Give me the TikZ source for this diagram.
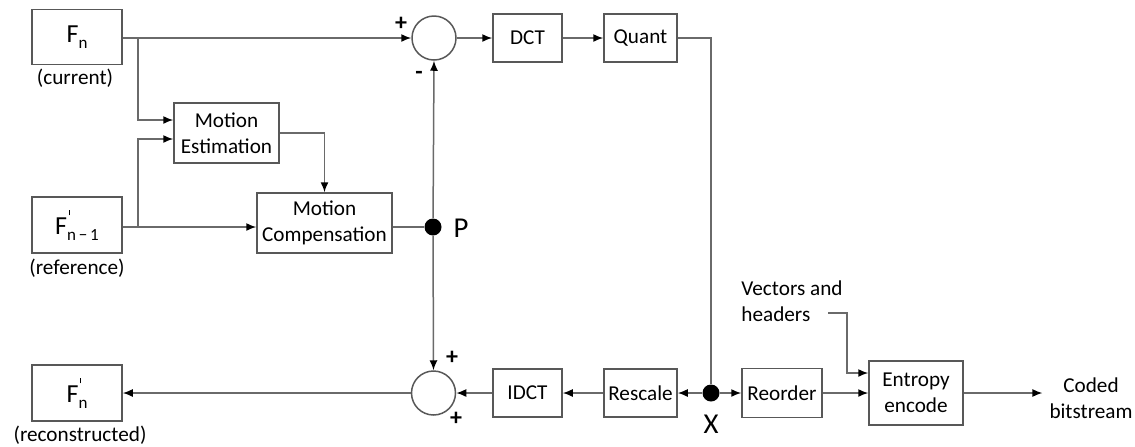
\documentclass[tikz,border=0pt]{standalone}
\usepackage{fontspec}
\setmainfont{Carlito}
\usepackage{tikz}
\usetikzlibrary{calc,arrows.meta,positioning}
\definecolor{linegray}{HTML}{6A6A6A}
\definecolor{boxgray}{HTML}{585858}
\newcommand{\subn}[1]{\raisebox{-3pt}{\fontsize{8.5}{10}\selectfont #1}}
\newcommand{\tick}{\rlap{\kern0.8pt\raisebox{9.4pt}{\rule{0.6pt}{2.8pt}}}}
\tikzset{
  ar/.style={-{Latex[length=5pt,width=4pt,color=black]},line width=0.75pt,linegray},
  ln/.style={line width=0.75pt,linegray},
  box/.style={draw=boxgray,line width=0.75pt,fill=white,align=center,inner sep=2pt},
  frame/.style={box,minimum width=45pt,minimum height=28pt,font=\fontsize{13}{15}\selectfont},
  sumc/.style={draw=boxgray,line width=0.75pt,circle,minimum size=22pt,inner sep=0pt},
  dot/.style={fill=black,circle,minimum size=8.5pt,inner sep=0pt},
  sgn/.style={font=\large\bfseries,inner sep=0pt}
}

\begin{document}
\begin{tikzpicture}[x=0.5pt,y=-0.5pt,font=\fontsize{10.6}{13}\selectfont]
\useasboundingbox (0,0) rectangle (1135,446);
% frames
\node[frame,minimum height=27.5pt] (fcur) at (77,37) {F\subn{n}};
\node[frame] (fref) at (77,225) {F\tick\subn{n\,−\,1}};
\node[frame] (frec) at (77,393) {F\tick\subn{n}};
\node (curlbl) at (75,78) {(current)};
\node (reflbl) at (77,268) {(reference)};
\node (reclbl) at (80,435) {(reconstructed)};
% prediction
\node[box,minimum width=52.5pt,minimum height=30pt] (me) at (226.5,133) {Motion\\Estimation};
\node[box,minimum width=67.5pt,minimum height=30pt] (mc) at (324.5,223) {Motion\\Compensation};
\node[dot] (P) at (433,227) {};
\node[font=\Large] (plbl) at (461,228) {P};
% forward path
\node[sumc] (sum1) at (434,38) {};
\node[box,minimum width=34.5pt,minimum height=24pt] (dct) at (527.5,38) {DCT};
\node[box,minimum width=36.5pt,minimum height=24pt] (quant) at (640.5,38) {Quant};
% reconstruction path
\node[sumc] (sum2) at (433.5,393) {};
\node[box,minimum width=34.5pt,minimum height=24pt] (idct) at (527.5,393) {IDCT};
\node[box,minimum width=36.5pt,minimum height=24pt] (rescale) at (640.5,393) {Rescale};
\node[dot] (X) at (711,393) {};
\node[font=\Large] (xlbl) at (711,424) {X};
% entropy coding
\node[box,minimum width=40pt,minimum height=24.5pt] (reorder) at (782,393) {Reorder};
\node[box,minimum width=47pt,minimum height=32pt] (entropy) at (916,393) {Entropy\\encode};
\node[align=left] (vec) at (792,301) {Vectors and\\headers};
\node[align=center] (coded) at (1091,398) {Coded\\bitstream};
% signs
\node[sgn] (plus1) at (401,24) {+};
\node[sgn] (minus1) at (419,75) {-};
\node[sgn] (plus2) at (452,358) {+};
\node[sgn] (plus3) at (456,419) {+};
% connectors
\coordinate (b1) at (138,38);
\coordinate (b2) at (138,227);
\draw[ar] (sum1.west -| fcur.east) -- (sum1.west);
\draw[ar] (b1) |- ($(me.west)+(0,-13)$);
\draw[ar] (b2) |- ($(me.west)+(0,6)$);
\draw[ar] (P -| fref.east) -- (P -| mc.west);
\draw[ar] (me.east) -| (mc.north);
\draw[ln] (P -| mc.east) -- (P);
\draw[ar] (P) -- (sum1.south);
\draw[ar] (P) -- (sum2.north);
\draw[ar] (sum1) -- (dct);
\draw[ar] (dct) -- (quant);
\draw[ln] (quant.east) -| (X);
\draw[ar] (X) -- (rescale);
\draw[ar] (X) -- (reorder);
\draw[ar] (rescale) -- (idct);
\draw[ar] (idct) -- (sum2);
\draw[ar] (sum2) -- (frec);
\draw[ar] (reorder) -- (entropy);
\draw[ar] (entropy.east) -- (entropy.east -| coded.west);
\coordinate (vin) at (828,313);
\coordinate (vbend) at (847,373);
\draw[ar] (vin) -| (vbend) -- (vbend -| entropy.west);
\end{tikzpicture}
\end{document}
